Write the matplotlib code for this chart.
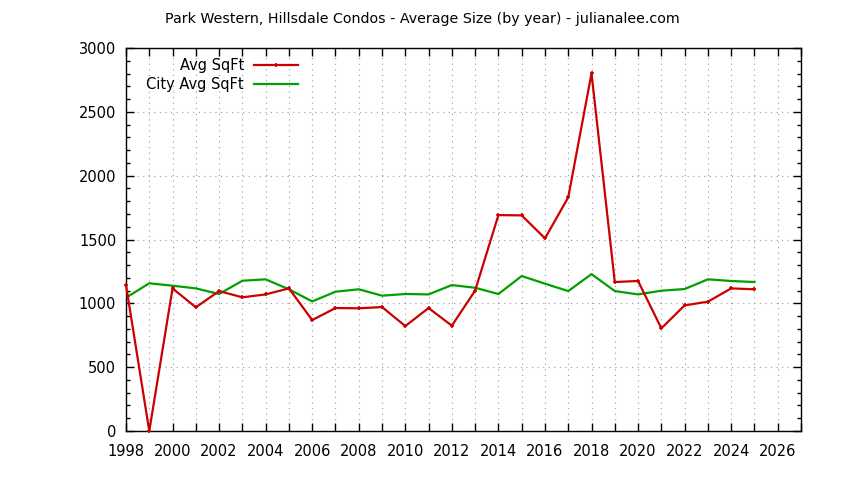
import matplotlib
matplotlib.use('Agg')
import matplotlib.pyplot as plt
from matplotlib.ticker import MultipleLocator

years = list(range(1998, 2026))
avg_sqft = [1143, 0, 1117, 969, 1096, 1047, 1070, 1117, 869, 963,
            961, 971, 822, 963, 825, 1100, 1691, 1689, 1509, 1830,
            2801, 1167, 1175, 804, 984, 1013, 1117, 1110]
city_avg_sqft = [1044, 1157, 1138, 1117, 1073, 1177, 1188, 1110, 1015, 1091,
                 1110, 1060, 1073, 1070, 1143, 1122, 1073, 1214, 1154, 1096,
                 1229, 1096, 1070, 1099, 1112, 1188, 1175, 1167]

fig = plt.figure(figsize=(8.44, 4.8), dpi=100)
ax = fig.add_axes([126 / 844, 49 / 480, 675 / 844, 383 / 480])

ax.plot(years, avg_sqft, color='#cc0000', lw=1.6, marker='+', ms=3.5, mew=1.2,
        label='Avg SqFt', clip_on=False, zorder=3)
ax.plot(years, city_avg_sqft, color='#00a000', lw=1.6,
        label='City Avg SqFt', zorder=2)

ax.set_xlim(1998, 2027)
ax.set_ylim(0, 3000)
ax.xaxis.set_major_locator(MultipleLocator(2))
ax.xaxis.set_minor_locator(MultipleLocator(1))
ax.yaxis.set_major_locator(MultipleLocator(500))
ax.yaxis.set_minor_locator(MultipleLocator(100))

ax.tick_params(which='both', direction='in', top=True, right=True,
               labelsize=10.5, width=1)
ax.tick_params(which='major', length=6)
ax.tick_params(axis='x', which='major', pad=9)
ax.tick_params(axis='y', which='major', pad=7)
ax.tick_params(axis='x', which='minor', length=6)
ax.tick_params(axis='y', which='minor', length=3)

ax.grid(which='major', color='#999999', linestyle=(0, (1, 4)), linewidth=0.8)
ax.grid(which='minor', axis='x', color='#999999', linestyle=(0, (1, 4)), linewidth=0.8)
for s in ax.spines.values():
    s.set_linewidth(1)

leg = ax.legend(loc='upper right', bbox_to_anchor=(0.27, 1.0), markerfirst=False,
                frameon=False, fontsize=10.5, handlelength=3.0, borderaxespad=0.3,
                labelspacing=0.25, handletextpad=0.7)
for t in leg.get_texts():
    t.set_ha('right')
leg._legend_box.align = 'right'

fig.text(0.5, 0.96, 'Park Western, Hillsdale Condos - Average Size (by year) - julianalee.com',
         ha='center', va='center', fontsize=10.3)

plt.savefig('out.png', dpi=100)
